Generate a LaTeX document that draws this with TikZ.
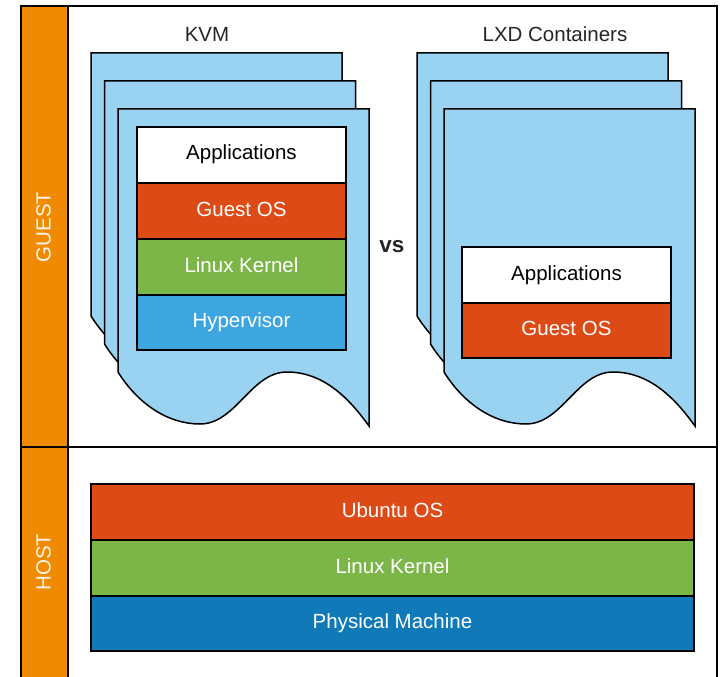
\documentclass[tikz,border=0pt]{standalone}
\usepackage{fontspec}
\setmainfont{Liberation Sans}
\definecolor{laneor}{RGB}{240,138,0}
\definecolor{docblue}{RGB}{154,210,242}
\definecolor{osred}{RGB}{222,74,22}
\definecolor{kgreen}{RGB}{124,182,72}
\definecolor{hypblue}{RGB}{62,166,222}
\definecolor{phyblue}{RGB}{16,122,185}
\tikzset{
  lane/.style={draw=black, line width=1.8pt, fill=laneor},
  pool/.style={draw=black, line width=1.8pt, fill=white},
  docshp/.style={draw=black, line width=1.5pt, fill=docblue},
  layer/.style={draw=black, line width=1.5pt, rectangle, inner sep=0pt,
    minimum height=56pt, text height=15pt, text depth=5pt,
    font=\fontsize{20.5}{24}\selectfont, text=white},
  title/.style={inner sep=0pt, font=\fontsize{20.5}{24}\selectfont, text=black!85}
}
\newcommand{\docpath}[2]{%
  \draw[docshp] (#1,#2) -- ++(251,0) -- ++(0,317)
    .. controls ++(-16,-22) and ++(40,0) .. ++(-82,-54)
    .. controls ++(-36,0) and ++(36,0) .. ++(-87,52)
    .. controls ++(-32,0) and ++(20,32) .. ++(-82,-52) -- cycle;}
\begin{document}
\begin{tikzpicture}[x=1pt,y=-1pt]
\useasboundingbox (0,0) rectangle (721,677);
\begin{scope}
\clip (0,0) rectangle (721,677);
% pools
\draw[pool] (21,6) rectangle (717,447);
\draw[lane] (21,6) rectangle (68,447);
\draw[pool] (21,447) rectangle (717,679);
\draw[lane] (21,447) rectangle (68,679);
\end{scope}
\node[title, text=white!92!laneor, rotate=90] (guest) at (43.5,227) {GUEST};
\node[title, text=white!92!laneor, rotate=90] (host) at (43.5,562) {HOST};
% titles
\node[title] (kvm) at (207,34) {KVM};
\node[title] (lxd) at (555,34) {LXD Containers};
\node[title, font=\fontsize{22.5}{26}\selectfont\bfseries] (vs) at (392,247) {vs};
% KVM documents
\docpath{91}{53}
\docpath{104.5}{81}
\docpath{118}{109}
% LXD documents
\docpath{417}{53}
\docpath{430.5}{81}
\docpath{444}{109}
% KVM stack
\node[layer, minimum width=209pt, fill=white, text=black] (kapp) at (241.5,155) {Applications};
\node[layer, minimum width=209pt, fill=osred] (kos) at (241.5,211) {Guest OS};
\node[layer, minimum width=209pt, fill=kgreen] (kker) at (241.5,267) {Linux Kernel};
\node[layer, minimum width=209pt, minimum height=55pt, fill=hypblue] (khyp) at (241.5,322.5) {Hypervisor};
% LXD stack
\node[layer, minimum width=209pt, fill=white, text=black] (lapp) at (566.5,275) {Applications};
\node[layer, minimum width=209pt, minimum height=55pt, fill=osred] (los) at (566.5,330.5) {Guest OS};
% Host stack
\node[layer, minimum width=603pt, fill=osred] (hos) at (392.5,512) {Ubuntu OS};
\node[layer, minimum width=603pt, fill=kgreen] (hker) at (392.5,568) {Linux Kernel};
\node[layer, minimum width=603pt, minimum height=55pt, fill=phyblue] (hphy) at (392.5,623.5) {Physical Machine};
\end{tikzpicture}
\end{document}
